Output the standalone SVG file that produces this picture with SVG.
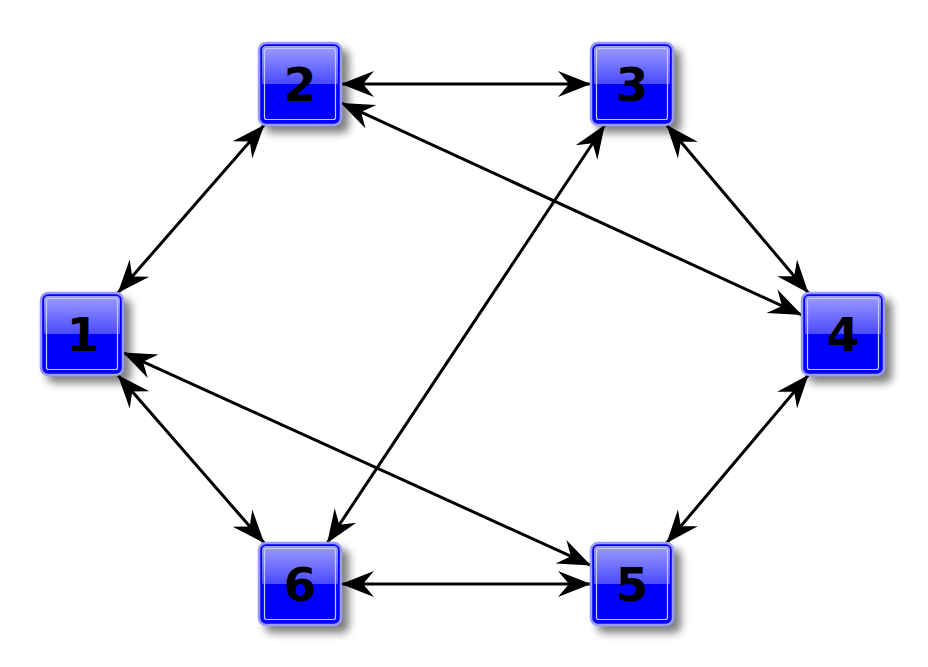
<svg xmlns="http://www.w3.org/2000/svg" width="928" height="667" viewBox="0 0 928 667">
<defs>
<style>
.edge{stroke:#000;stroke-width:3;fill:none;marker-start:url(#ah);marker-end:url(#ah)}
.sh{fill:#000;opacity:0.5;filter:url(#blur)}
.outer{fill:#0000ff;stroke:#9a9aff;stroke-width:2.5}
.gloss{fill:url(#gl)}
.inner{fill:none;stroke:#c8c8ff;stroke-width:1.2}
.lbl{font-family:"DejaVu Sans",sans-serif;font-weight:bold;font-size:47px;fill:#000;text-anchor:middle}
</style>
<filter id="blur" x="-30%" y="-30%" width="160%" height="160%"><feGaussianBlur stdDeviation="4"/></filter>
<linearGradient id="gl" x1="0" y1="0" x2="0" y2="1">
<stop offset="0" stop-color="#9c9cff"/>
<stop offset="1" stop-color="#4a4aff"/>
</linearGradient>
<marker id="ah" viewBox="-34 -14 36 28" refX="0" refY="0" markerWidth="36" markerHeight="28" markerUnits="userSpaceOnUse" orient="auto-start-reverse">
<path d="M0,0 L-33,-13 L-22,0 L-33,13 Z" fill="#000"/>
</marker>
<g id="box">
<rect class="sh" x="-35" y="-35" width="84" height="84" rx="7"/>
<rect class="outer" x="-41" y="-41" width="82" height="82" rx="7"/>
<path class="gloss" d="M-38,-34 a4,4 0 0 1 4,-4 h68 a4,4 0 0 1 4,4 v34 h-76 Z"/>
<rect class="inner" x="-35.5" y="-35.5" width="71" height="71" rx="2"/>
</g>
</defs>
<g id="edges">
<line class="edge" x1="117.8" y1="293" x2="264.2" y2="125"/>
<line class="edge" x1="341" y1="84" x2="591" y2="84"/>
<line class="edge" x1="341" y1="102.9" x2="802" y2="315.1"/>
<line class="edge" x1="666.6" y1="125" x2="808.4" y2="293"/>
<line class="edge" x1="604.8" y1="125" x2="327.2" y2="543"/>
<line class="edge" x1="123" y1="352.6" x2="591" y2="565.4"/>
<line class="edge" x1="808.4" y1="375" x2="666.6" y2="543"/>
<line class="edge" x1="117.8" y1="375" x2="264.2" y2="543"/>
<line class="edge" x1="341" y1="584" x2="591" y2="584"/>
</g>
<g id="n1" transform="translate(82,334)"><use href="#box"/><text class="lbl" x="1" y="17">1</text></g>
<g id="n2" transform="translate(300,84)"><use href="#box"/><text class="lbl" x="0" y="17">2</text></g>
<g id="n3" transform="translate(632,84)"><use href="#box"/><text class="lbl" x="0" y="17">3</text></g>
<g id="n4" transform="translate(843,334)"><use href="#box"/><text class="lbl" x="0" y="17">4</text></g>
<g id="n5" transform="translate(632,584)"><use href="#box"/><text class="lbl" x="0" y="17">5</text></g>
<g id="n6" transform="translate(300,584)"><use href="#box"/><text class="lbl" x="0" y="17">6</text></g>
</svg>
